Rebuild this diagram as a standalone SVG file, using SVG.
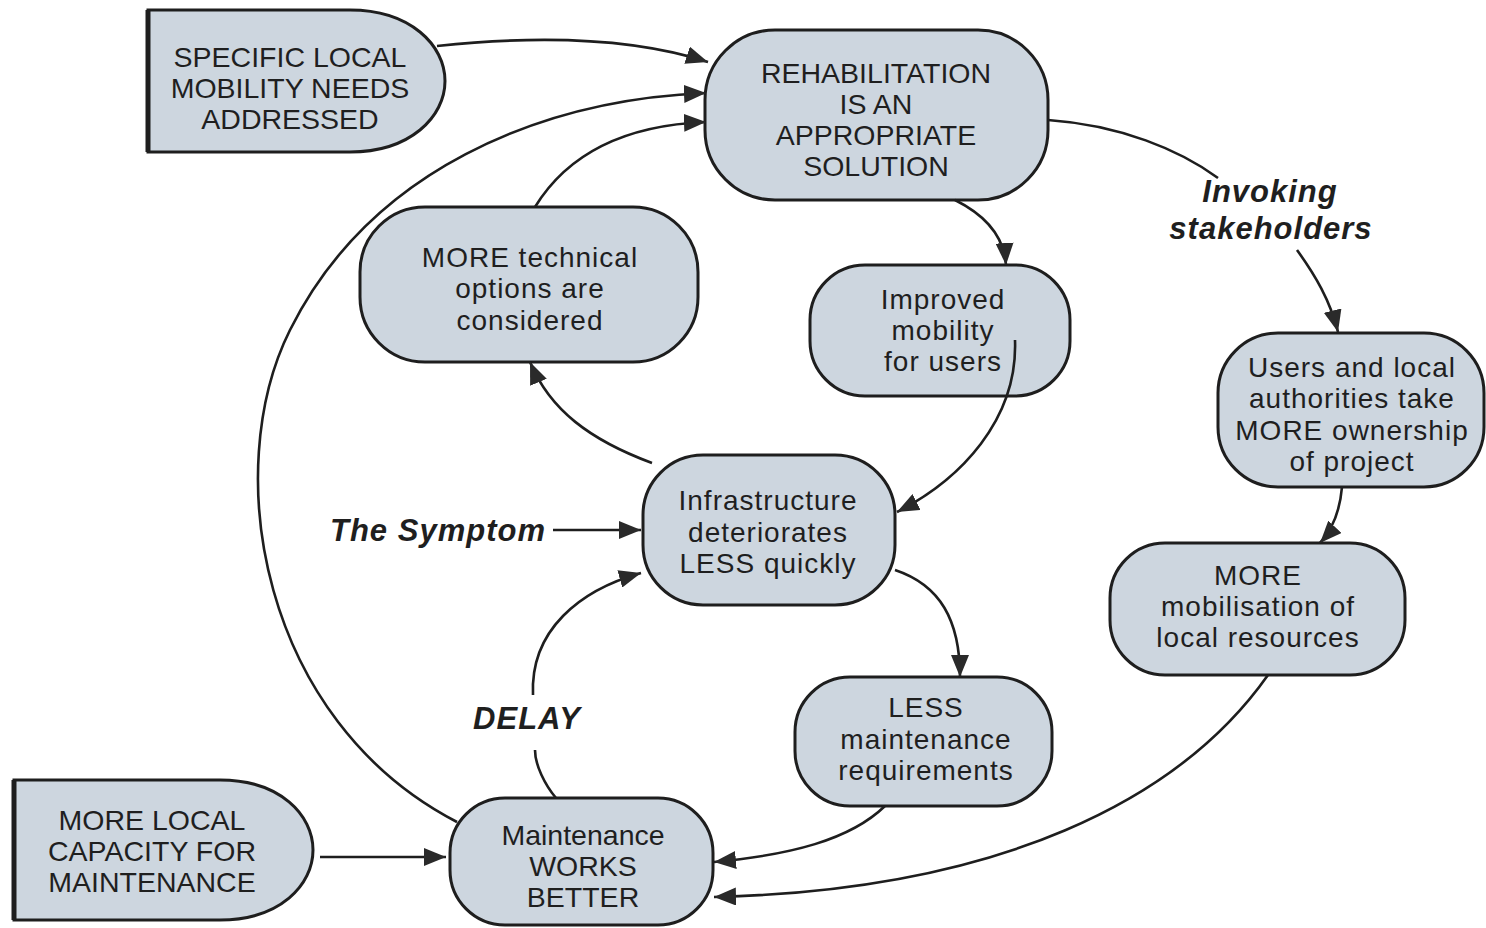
<svg xmlns="http://www.w3.org/2000/svg" width="1486" height="928" viewBox="0 0 1486 928">
<defs>
<style>
.node{fill:#cdd6df;stroke:#1e1e1e;stroke-width:3}
.nt{font-family:"Liberation Sans",Arial,sans-serif;font-size:28px;fill:#1f1f1f;text-anchor:middle;letter-spacing:1px}
.nc{font-family:"Liberation Sans",Arial,sans-serif;font-size:28.5px;fill:#1f1f1f;text-anchor:middle}
.lab{font-family:"Liberation Sans",Arial,sans-serif;font-size:31px;font-style:italic;font-weight:bold;fill:#1f1f1f;letter-spacing:1px}
.edge{fill:none;stroke:#1e1e1e;stroke-width:2.6}
</style>
<marker id="ah" markerUnits="userSpaceOnUse" markerWidth="24" markerHeight="18" refX="22" refY="9" orient="auto">
<path d="M0,0 L22,9 L0,18 Z" fill="#2a2a2a"/>
</marker>
</defs>
<rect width="1486" height="928" fill="#ffffff"/>

<g id="n-specific">
<path class="node" d="M148 10 L350 10 C410 10, 445 45, 445 81 C445 117, 410 152, 350 152 L148 152 Z"/>
<line x1="148" y1="10" x2="148" y2="152" stroke="#1e1e1e" stroke-width="5"/>
<text class="nc" x="290" y="67">SPECIFIC LOCAL</text>
<text class="nc" x="290" y="98">MOBILITY NEEDS</text>
<text class="nc" x="290" y="129">ADDRESSED</text>
</g>

<g id="n-rehab">
<rect class="node" x="705" y="30" width="343" height="170" rx="70"/>
<text class="nc" x="876" y="83">REHABILITATION</text>
<text class="nc" x="876" y="114">IS AN</text>
<text class="nc" x="876" y="145">APPROPRIATE</text>
<text class="nc" x="876" y="176">SOLUTION</text>
</g>

<g id="n-technical">
<rect class="node" x="360" y="207" width="338" height="155" rx="65"/>
<text class="nt" x="530" y="267">MORE technical</text>
<text class="nt" x="530" y="298">options are</text>
<text class="nt" x="530" y="330">considered</text>
</g>

<g id="n-mobility">
<rect class="node" x="810" y="265" width="260" height="131" rx="55"/>
<text class="nt" x="943" y="309">Improved</text>
<text class="nt" x="943" y="340">mobility</text>
<text class="nt" x="943" y="371">for users</text>
</g>

<g id="n-infra">
<rect class="node" x="643" y="455" width="252" height="150" rx="60"/>
<text class="nt" x="768" y="510">Infrastructure</text>
<text class="nt" x="768" y="542">deteriorates</text>
<text class="nt" x="768" y="573">LESS quickly</text>
</g>

<g id="n-users">
<rect class="node" x="1218" y="333" width="266" height="154" rx="60"/>
<text class="nt" x="1352" y="377">Users and local</text>
<text class="nt" x="1352" y="408">authorities take</text>
<text class="nt" x="1352" y="440">MORE ownership</text>
<text class="nt" x="1352" y="471">of project</text>
</g>

<g id="n-mobilisation">
<rect class="node" x="1110" y="543" width="295" height="132" rx="55"/>
<text class="nt" x="1258" y="585">MORE</text>
<text class="nt" x="1258" y="616">mobilisation of</text>
<text class="nt" x="1258" y="647">local resources</text>
</g>

<g id="n-lessmaint">
<rect class="node" x="795" y="677" width="257" height="129" rx="55"/>
<text class="nt" x="926" y="717">LESS</text>
<text class="nt" x="926" y="749">maintenance</text>
<text class="nt" x="926" y="780">requirements</text>
</g>

<g id="n-maint">
<rect class="node" x="450" y="798" width="263" height="127" rx="55"/>
<text class="nc" x="583" y="845">Maintenance</text>
<text class="nc" x="583" y="876">WORKS</text>
<text class="nc" x="583" y="907">BETTER</text>
</g>

<g id="n-capacity">
<path class="node" d="M14 780 L220 780 C280 780, 313 815, 313 850 C313 885, 280 920, 220 920 L14 920 Z"/>
<line x1="14" y1="780" x2="14" y2="920" stroke="#1e1e1e" stroke-width="5"/>
<text class="nc" x="152" y="830">MORE LOCAL</text>
<text class="nc" x="152" y="861">CAPACITY FOR</text>
<text class="nc" x="152" y="892">MAINTENANCE</text>
</g>

<g id="connectors">
<path class="edge" d="M437 46 C550 34, 640 40, 708 62" marker-end="url(#ah)"/>
<path class="edge" d="M457 822 C260 720, 220 470, 290 330 C370 170, 540 100, 706 93" marker-end="url(#ah)"/>
<path class="edge" d="M535 207 C570 150, 630 125, 706 122" marker-end="url(#ah)"/>
<path class="edge" d="M955 200 C985 215, 1004 235, 1006 265" marker-end="url(#ah)"/>
<path class="edge" d="M1048 120 C1120 125, 1180 150, 1218 178"/>
<path class="edge" d="M1297 250 C1315 275, 1330 300, 1338 332" marker-end="url(#ah)"/>
<path class="edge" d="M1342 487 C1340 510, 1332 530, 1320 543" marker-end="url(#ah)"/>
<path class="edge" d="M1268 675 C1180 800, 1000 890, 714 897" marker-end="url(#ah)"/>
<path class="edge" d="M885 806 C850 840, 790 855, 714 862" marker-end="url(#ah)"/>
<path class="edge" d="M895 570 C940 585, 960 620, 960 677" marker-end="url(#ah)"/>
<path class="edge" d="M652 463 C590 440, 550 410, 530 362" marker-end="url(#ah)"/>
<path class="edge" d="M1015 340 C1018 420, 960 480, 897 512" marker-end="url(#ah)"/>
<path class="edge" d="M553 530 L641 530" marker-end="url(#ah)"/>
<path class="edge" d="M533 695 C530 630, 580 590, 641 573" marker-end="url(#ah)"/>
<path class="edge" d="M556 798 C545 785, 535 765, 535 750"/>
<path class="edge" d="M320 857 L446 857" marker-end="url(#ah)"/>
</g>

<g id="labels">
<text class="lab" x="330" y="541">The Symptom</text>
<text class="lab" x="527" y="729" text-anchor="middle">DELAY</text>
<text class="lab" x="1270" y="202" text-anchor="middle">Invoking</text>
<text class="lab" x="1271" y="239" text-anchor="middle">stakeholders</text>
</g>
</svg>
